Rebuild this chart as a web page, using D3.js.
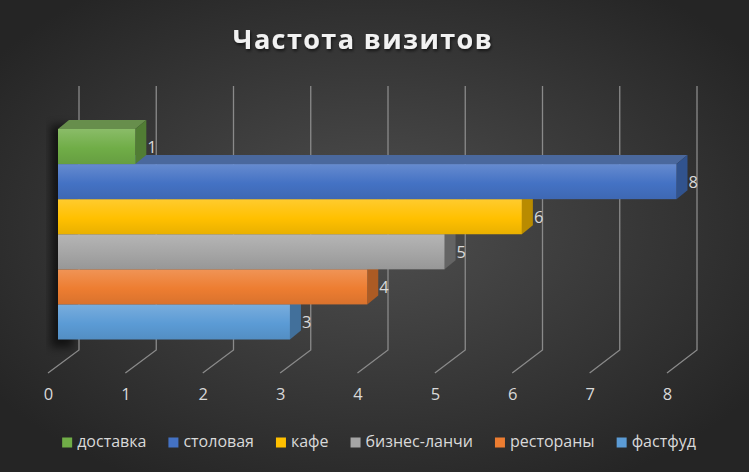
<!DOCTYPE html>
<html>
<head>
<meta charset="utf-8">
<script src="https://cdn.jsdelivr.net/npm/d3@7"></script>
<style>
  body { margin: 0; background: #262626; }
  svg { display: block; font-family: "Open Sans", "Noto Sans", sans-serif; }
</style>
</head>
<body>
<script>
// Chart data
var series = ["доставка", "столовая", "кафе", "бизнес-ланчи", "рестораны", "фастфуд"];
var values = [1, 8, 6, 5, 4, 3];
var colors = ["#70AD47", "#4472C4", "#FFC000", "#A5A5A5", "#ED7D31", "#5B9BD5"];
var tickValues = [0, 1, 2, 3, 4, 5, 6, 7, 8];
var title = "Частота визитов";

var w = 749, h = 472;
var depthX = 11, depthY = -9; // 3D offset of the bar depth

var svg = d3.select("body")
    .append("svg")
    .attr("width", w)
    .attr("height", h);

var defs = svg.append("defs");

// Background radial gradient
var bg = defs.append("radialGradient")
    .attr("id", "bg")
    .attr("cx", "50%").attr("cy", "48%").attr("r", "62%");
bg.append("stop").attr("offset", "0%").attr("stop-color", "#4f4f4f");
bg.append("stop").attr("offset", "100%").attr("stop-color", "#252525");

svg.append("rect")
    .attr("width", w)
    .attr("height", h)
    .attr("fill", "url(#bg)");

// Gradients for the front faces of the bars
colors.forEach(function(c, i){
    var g = defs.append("linearGradient")
        .attr("id", "front" + i)
        .attr("x1", 0).attr("y1", 0).attr("x2", 0).attr("y2", 1);
    g.append("stop").attr("offset", "0%").attr("stop-color", d3.interpolateRgb(c, "#fff")(0.18));
    g.append("stop").attr("offset", "55%").attr("stop-color", c);
    g.append("stop").attr("offset", "100%").attr("stop-color", d3.rgb(c).darker(0.25));
});

// Soft shadow filter
var blur = defs.append("filter").attr("id", "blur")
    .attr("x", "-20%").attr("y", "-20%").attr("width", "140%").attr("height", "140%");
blur.append("feGaussianBlur").attr("stdDeviation", 4);

var titleShadow = defs.append("filter").attr("id", "tshadow");
titleShadow.append("feDropShadow")
    .attr("dx", 1).attr("dy", 2).attr("stdDeviation", 1.5)
    .attr("flood-color", "#000").attr("flood-opacity", 0.6);

// Scales: front of the bars, back wall and floor front edge
var xBar = d3.scaleLinear().domain([0, 8]).range([58, 676.5]);
var xBack = d3.scaleLinear().domain([0, 8]).range([79, 697]);
var xFloor = d3.scaleLinear().domain([0, 8]).range([48, 667]);

var y = d3.scaleBand()
    .domain(series)
    .range([129, 339.5])
    .padding(0);

// Gridlines: up the back wall, then across the floor
svg.append("g")
    .attr("class", "grid")
    .selectAll("path")
    .data(tickValues)
    .enter()
    .append("path")
    .attr("d", function(d){
        return "M" + xBack(d) + ",86 V350 L" + xFloor(d) + ",373";
    })
    .attr("fill", "none")
    .attr("stroke", "#8a8a8a")
    .attr("stroke-width", 1.3);

// Axis labels
var axis = svg.append("g")
    .attr("class", "axis")
    .attr("transform", "translate(0,388)")
    .call(d3.axisBottom(xFloor).tickValues(tickValues).tickSize(0).tickPadding(0));
axis.select(".domain").remove();
axis.selectAll("text")
    .attr("fill", "#d9d9d9")
    .style("font-size", "16.5px")
    .style("font-family", "'Open Sans', sans-serif");

// Shadow behind the bars
svg.append("rect")
    .attr("x", xBar(0) - 7)
    .attr("y", y.range()[0] - 4)
    .attr("width", 22)
    .attr("height", y.range()[1] - y.range()[0] + 12)
    .attr("fill", "#000")
    .attr("opacity", 0.6)
    .attr("filter", "url(#blur)");

// Bars, drawn bottom to top so upper bars cover hidden faces
var order = d3.range(series.length).reverse();
var bars = svg.append("g").attr("class", "bars")
    .selectAll("g")
    .data(order)
    .enter()
    .append("g");

// Top face
bars.append("path")
    .attr("d", function(i){
        var x0 = xBar(0), x1 = xBar(values[i]), t = y(series[i]);
        return "M" + x0 + "," + t + " L" + (x0 + depthX) + "," + (t + depthY) +
            " L" + (x1 + depthX) + "," + (t + depthY) + " L" + x1 + "," + t + "Z";
    })
    .attr("fill", function(i){ return d3.interpolateRgb(colors[i], "#555")(0.35); });

// Side face
bars.append("path")
    .attr("d", function(i){
        var x1 = xBar(values[i]), t = y(series[i]), b = t + y.bandwidth();
        return "M" + x1 + "," + t + " L" + (x1 + depthX) + "," + (t + depthY) +
            " L" + (x1 + depthX) + "," + (b + depthY) + " L" + x1 + "," + b + "Z";
    })
    .attr("fill", function(i){ return d3.rgb(colors[i]).darker(i === 3 ? 1.4 : 0.9); });

// Front face
bars.append("rect")
    .attr("x", xBar(0))
    .attr("y", function(i){ return y(series[i]); })
    .attr("width", function(i){ return xBar(values[i]) - xBar(0); })
    .attr("height", y.bandwidth())
    .attr("fill", function(i){ return "url(#front" + i + ")"; });

// Value labels
svg.append("g")
    .selectAll("text")
    .data(values)
    .enter()
    .append("text")
    .attr("x", function(d){ return xBar(d) + 12; })
    .attr("y", function(d, i){ return y(series[i]) + y.bandwidth() / 2 + 2; })
    .attr("dominant-baseline", "middle")
    .attr("fill", "#d9d9d9")
    .style("font-size", "16.5px")
    .text(function(d){ return d; });

// Title
svg.append("text")
    .attr("x", 363)
    .attr("y", 49)
    .attr("text-anchor", "middle")
    .attr("fill", "#f2f2f2")
    .attr("filter", "url(#tshadow)")
    .style("font-size", "27px")
    .style("font-weight", "bold")
    .style("letter-spacing", "1.4px")
    .text(title);

// Legend
var legend = svg.append("g").attr("class", "legend");
var lx = 0;
series.forEach(function(s, i){
    var item = legend.append("g").attr("transform", "translate(" + lx + ",0)");
    item.append("rect")
        .attr("x", 0).attr("y", -5)
        .attr("width", 10).attr("height", 10)
        .attr("fill", colors[i]);
    var t = item.append("text")
        .attr("x", 15)
        .attr("y", 0.5)
        .attr("dominant-baseline", "middle")
        .attr("fill", "#d9d9d9")
        .style("font-size", "16px")
        .text(s);
    lx += 15 + t.node().getComputedTextLength() + 22;
});
lx -= 22;
legend.attr("transform", "translate(" + (379 - lx / 2) + ",442.5)");
</script>
</body>
</html>
